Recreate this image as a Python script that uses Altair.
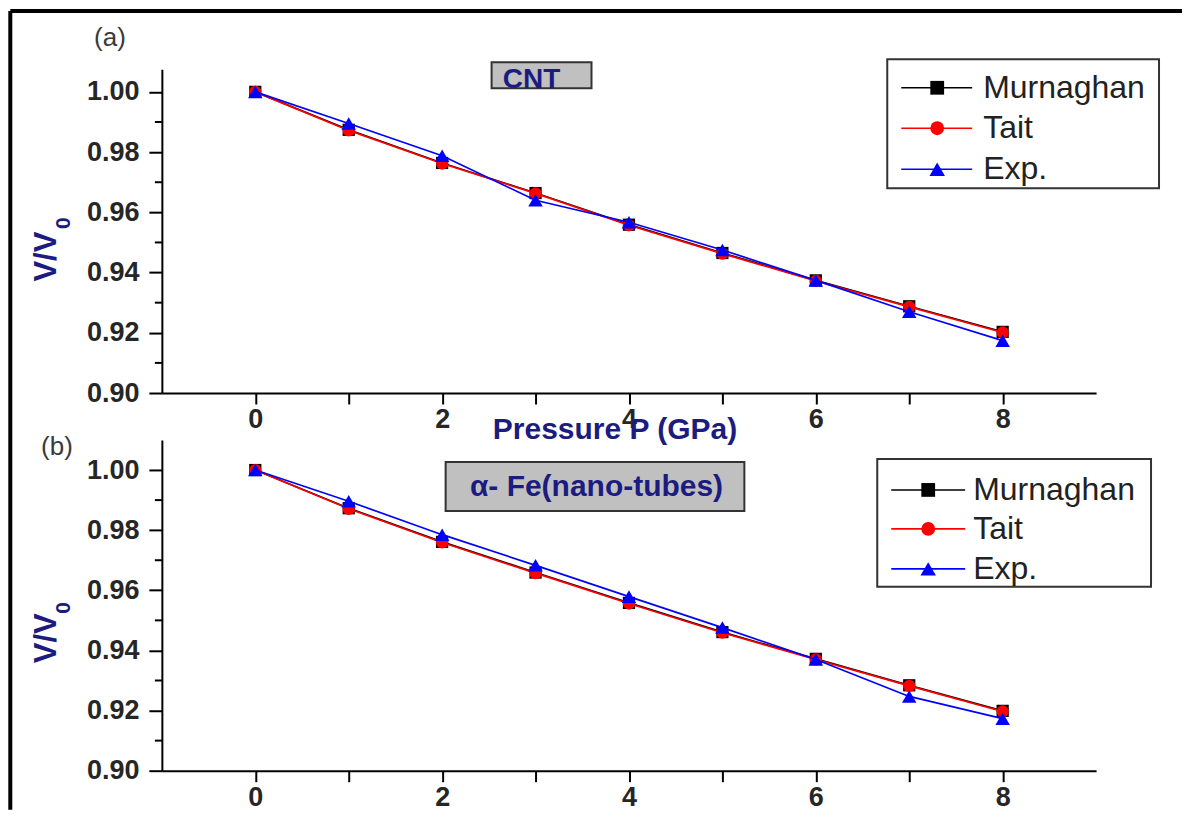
import altair as alt
import pandas as pd

# ---------------- data ----------------
pressure = [0, 1, 2, 3, 4, 5, 6, 7, 8]
series_names = ["Murnaghan", "Tait", "Exp."]
series_colors = ["#000000", "#ff0000", "#0000ff"]
series_shapes = ["square", "circle", "triangle-up"]
series_sizes = [150, 150, 210]

cnt_murnaghan = [1.000, 0.9874, 0.9764, 0.9664, 0.9559, 0.9465, 0.9374, 0.9288, 0.9203]
cnt_tait = [1.000, 0.9872, 0.9762, 0.9663, 0.9557, 0.9463, 0.9372, 0.9286, 0.9201]
cnt_exp = [1.000, 0.9895, 0.9788, 0.9640, 0.9567, 0.9475, 0.9374, 0.9270, 0.9174]

fe_murnaghan = [1.000, 0.9873, 0.9761, 0.9659, 0.9558, 0.9461, 0.9372, 0.9284, 0.9199]
fe_tait = [1.000, 0.9871, 0.9759, 0.9657, 0.9556, 0.9459, 0.9370, 0.9282, 0.9197]
fe_exp = [1.000, 0.9896, 0.9785, 0.9683, 0.9579, 0.9476, 0.9370, 0.9247, 0.9173]

x_ticks = [0, 1, 2, 3, 4, 5, 6, 7, 8]
y_major = [0.90, 0.92, 0.94, 0.96, 0.98, 1.00]
y_minor = [0.91, 0.93, 0.95, 0.97, 0.99]

NAVY = "#1c1c80"
FONT = "Liberation Sans"
W = 935


def one_row(**kw):
    return pd.DataFrame({k: [v] for k, v in kw.items()} or {"a": [0]})


def panel(values, ydom, height, xtitle, ytitle_y, sub_y, tag, tag_xy, box, box_text,
          box_text_xy, box_text_baseline, box_font, leg_box, leg_rows, leg_line, leg_mx,
          leg_tx, frame=None):
    x_axis = alt.Axis(values=x_ticks, labelExpr="datum.value % 2 === 0 ? datum.label : ''",
                      tickSize=11, labelPadding=3, labelOverlap=False, labelFlush=False,
                      title=xtitle, titleX=453, titleY=37, titleAlign="center",
                      titleBaseline="middle", titleFont=FONT, titleFontSize=30,
                      titleFontWeight="bold", titleColor=NAVY)
    y_axis = alt.Axis(values=y_major, format=".2f", tickSize=13, labelPadding=10,
                      labelOverlap=False, labelFlush=False,
                      title="V/V", titleX=-115, titleY=ytitle_y, titleAngle=270,
                      titleAlign="center", titleBaseline="middle", titleFont=FONT,
                      titleFontSize=31, titleFontWeight="bold", titleColor=NAVY)
    xs = alt.Scale(domain=[-1, 9], nice=False, zero=False)
    ys = alt.Scale(domain=ydom, nice=False, zero=False)
    X = alt.X("P:Q", scale=xs, axis=x_axis)
    Y = alt.Y("V:Q", scale=ys, axis=y_axis)

    layers = []
    # minor y ticks through the y scale
    minor_df = pd.DataFrame({"V": y_minor})
    layers.append(alt.Chart(minor_df).mark_rule(color="black", strokeWidth=2).encode(
        y=Y, x=alt.value(-7), x2=alt.value(0)))

    for name, col, shp, sz, vals in zip(series_names, series_colors, series_shapes,
                                        series_sizes, values):
        d = pd.DataFrame({"P": pressure, "V": vals})
        layers.append(alt.Chart(d).mark_line(color=col, strokeWidth=1.7).encode(x=X, y=Y))
        layers.append(alt.Chart(d).mark_point(filled=True, color=col, shape=shp, size=sz,
                                              opacity=1).encode(x=X, y=Y))

    # subscript 0 of the y title
    layers.append(alt.Chart(one_row(t="0")).mark_text(
        font=FONT, fontSize=21, fontWeight="bold", color=NAVY, angle=270,
        align="center", baseline="middle").encode(
        x=alt.value(-98), y=alt.value(sub_y), text="t:N"))

    # annotation box
    layers.append(alt.Chart(one_row()).mark_rect(fill="#c0c0c0", stroke="#333333",
                                                 strokeWidth=2).encode(
        x=alt.value(box[0]), x2=alt.value(box[1]), y=alt.value(box[2]), y2=alt.value(box[3])))
    layers.append(alt.Chart(one_row(t=box_text)).mark_text(
        font=FONT, fontSize=box_font, fontWeight="bold", color=NAVY, align="center",
        baseline=box_text_baseline).encode(
        x=alt.value(box_text_xy[0]), y=alt.value(box_text_xy[1]), text="t:N"))

    # panel tag
    layers.append(alt.Chart(one_row(t=tag)).mark_text(
        font=FONT, fontSize=26, color="#3a3a3a", align="center", baseline="middle").encode(
        x=alt.value(tag_xy[0]), y=alt.value(tag_xy[1]), text="t:N"))

    # legend
    layers.append(alt.Chart(one_row()).mark_rect(fill="white", stroke="#333333",
                                                 strokeWidth=2).encode(
        x=alt.value(leg_box[0]), x2=alt.value(leg_box[1]), y=alt.value(leg_box[2]),
        y2=alt.value(leg_box[3])))
    for name, col, shp, ry, sz in zip(series_names, series_colors, series_shapes, leg_rows,
                                      [190, 190, 240]):
        r = one_row(name=name)
        layers.append(alt.Chart(r).mark_rule(color=col, strokeWidth=1.6).encode(
            x=alt.value(leg_line[0]), x2=alt.value(leg_line[1]), y=alt.value(ry)))
        layers.append(alt.Chart(r).mark_point(filled=True, color=col, shape=shp, size=sz,
                                              opacity=1).encode(
            x=alt.value(leg_mx), y=alt.value(ry)))
        layers.append(alt.Chart(r).mark_text(font=FONT, fontSize=32, color="#222222",
                                             align="left", baseline="middle").encode(
            x=alt.value(leg_tx), y=alt.value(ry), text="name:N"))

    if frame is not None:
        fx, fy, fx2, fy2 = frame
        layers.append(alt.Chart(one_row()).mark_rule(color="black", strokeWidth=4).encode(
            x=alt.value(fx), y=alt.value(fy), y2=alt.value(fy2)))
        layers.append(alt.Chart(one_row()).mark_rule(color="black", strokeWidth=4).encode(
            x=alt.value(fx), x2=alt.value(fx2), y=alt.value(fy)))

    return alt.layer(*layers).properties(width=W, height=height)


panel_a = panel(
    [cnt_murnaghan, cnt_tait, cnt_exp], [0.90, 1.0075], 324,
    "Pressure P (GPa)", 187, 154, "(a)", (-52, -31),
    (330, 430, -7, 19), "CNT", (370, 19), "alphabetic", 28,
    (726, 998, -10, 119), [18.5, 59, 100], (740, 811), 776, 822,
    frame=(-151.7, -58.3, 1021, 741))

panel_b = panel(
    [fe_murnaghan, fe_tait, fe_exp], [0.90, 1.01], 331,
    None, 198, 168, "(b)", (-105, 7),
    (284, 583, 22, 71), "α- Fe(nano-tubes)", (435, 47), "middle", 30,
    (716, 990, 19, 147), [50, 89, 129], (730, 804), 767, 812)

chart = alt.vconcat(panel_a, panel_b, spacing=47, bounds="flush").properties(
    padding=0, background="white"
).configure_view(stroke=None).configure_axis(
    grid=False, domainColor="black", domainWidth=2, tickColor="black", tickWidth=2,
    labelFont=FONT, labelFontSize=27, labelFontWeight="bold", labelColor="#262626"
)

chart.save("out.html", embed_options={"renderer": "svg", "actions": False})
